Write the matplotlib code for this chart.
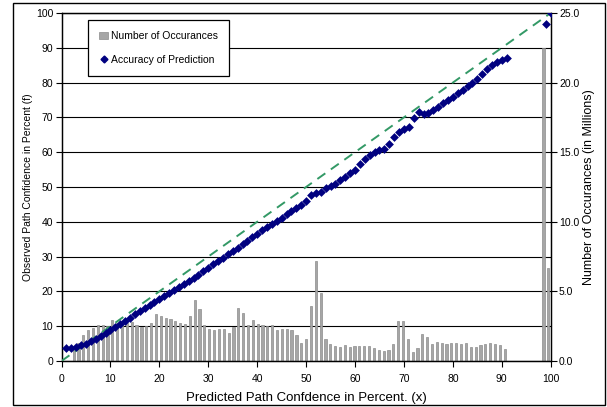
import matplotlib
matplotlib.use("Agg")
import matplotlib.pyplot as plt
from matplotlib.patches import Rectangle
from matplotlib.lines import Line2D
from matplotlib.patches import Patch
import numpy as np

plt.rcParams['font.family'] = ['Liberation Sans', 'DejaVu Sans']

# ---- data ----
# Accuracy of prediction: predicted confidence (x) vs observed confidence (f)
pred_x = list(range(1, 92)) + [99, 100]
observed_f = [3.6, 3.7, 4.0, 4.5, 5.0, 5.7, 6.4, 7.2, 8.0, 8.9,
              9.8, 10.7, 11.6, 12.5, 13.4, 14.3, 15.2, 16.1, 17.0, 17.9,
              18.7, 19.5, 20.3, 21.2, 22.1, 23.0, 23.9, 24.8, 25.8, 26.8,
              27.8, 28.7, 29.7, 30.7, 31.6, 32.5, 33.5, 34.6, 35.6, 36.6,
              37.6, 38.5, 39.4, 40.3, 41.2, 42.1, 43.0, 43.9, 44.9, 45.9,
              47.6, 48.2, 48.7, 49.6, 50.3, 51.0, 51.9, 52.9, 54.0, 55.0,
              56.6, 58.0, 59.2, 60.0, 60.6, 61.0, 62.3, 64.4, 65.8, 66.6,
              67.2, 69.8, 71.5, 71.0, 71.2, 72.0, 73.0, 74.0, 75.0, 76.0,
              77.0, 78.0, 79.0, 80.0, 81.0, 82.5, 84.0, 85.0, 86.0, 86.5,
              87.0, 96.8, 100.0]

# Number of occurrences (millions) per confidence category 0..100
bin_category = list(range(0, 101))
occurrences_m = ([0.0, 0.0,
                  0.79, 1.31, 1.86, 2.21, 2.38, 2.62, 2.57, 2.50, 2.93, 2.76,
                  2.80, 2.74, 2.80, 2.57, 2.45, 2.50, 2.74, 3.40, 3.20, 3.10,
                  3.00, 2.88, 2.72, 2.69, 3.20, 4.36, 3.76, 2.57, 2.33, 2.26,
                  2.33, 2.33, 1.98, 2.45, 3.83, 3.45, 2.57, 2.98, 2.64, 2.62,
                  2.50, 2.57, 2.21, 2.29, 2.33, 2.26, 1.86, 1.28, 1.55, 3.98,
                  7.19, 4.90, 1.60, 1.19, 1.05, 1.02, 1.12, 0.98, 1.10, 1.10,
                  1.07, 1.05, 0.90, 0.79, 0.74, 0.79, 1.19, 2.86, 2.90, 1.57,
                  0.64, 0.95, 1.95, 1.69, 1.21, 1.38, 1.31, 1.21, 1.29, 1.29,
                  1.21, 1.31, 1.02, 1.02, 1.12, 1.24, 1.29, 1.24, 1.17, 0.83]
                 + [0.0] * 7 + [22.5, 6.7])

diag_x = [0, 100]
diag_y = [0, 100]

left_ticks = list(range(0, 101, 10))
right_ticks = [0, 5, 10, 15, 20, 25]
x_ticks = list(range(0, 101, 10))

# ---- figure ----
fig = plt.figure(figsize=(6.07, 4.07), dpi=100)
pos = [61.5 / 607, 1 - 361 / 407, (550.7 - 61.5) / 607, (361 - 13) / 407]

# bar axes (bottom layer, right scale, category x scale)
axb = fig.add_axes(pos, zorder=0)
axb.bar(bin_category, occurrences_m, width=0.45, color='#a6a6a6',
        edgecolor='#8c8c8c', linewidth=0.5, zorder=2)
axb.set_xlim(-0.5, 100.5)
axb.set_ylim(0, 25)
axb.xaxis.set_visible(False)
axb.yaxis.tick_right()
axb.yaxis.set_label_position('right')
axb.set_yticks(right_ticks)
axb.set_yticklabels([f"{v:.1f}" for v in right_ticks], fontsize=7.5)
axb.set_yticks(np.arange(2.5, 25, 5), minor=True)
axb.tick_params(axis='y', which='minor', length=0)
axb.tick_params(axis='y', which='major', direction='out', length=4, width=0.8, pad=2)
axb.grid(True, axis='y', which='both', color='black', linewidth=0.8, zorder=0)
axb.set_axisbelow(True)
axb.set_ylabel('Number of Occurances (in Millions)', fontsize=9, labelpad=3)
for s in axb.spines.values():
    s.set_color('black')
    s.set_linewidth(0.9)

# main axes (top layer)
ax = fig.add_axes(pos, zorder=1)
ax.patch.set_visible(False)
ax.plot(diag_x, diag_y, linestyle=(0, (5, 3.5)), color='#339966', linewidth=1.4, zorder=3)
ax.scatter(pred_x, observed_f, marker='D', s=20, color='#000080', zorder=4,
           linewidths=0)
ax.set_xlim(0, 100)
ax.set_ylim(0, 100)
ax.set_xticks(x_ticks)
ax.set_yticks(left_ticks)
ax.tick_params(axis='both', direction='out', length=4, width=0.8, labelsize=7.5, pad=2)
ax.tick_params(axis='x', pad=5)
ax.set_xlabel('Predicted Path Confdence in Percent. (x)', fontsize=9.5, labelpad=6)
ax.set_ylabel('Observed Path Confidence in Percent (f)', fontsize=7.5, labelpad=2)
for s in ax.spines.values():
    s.set_color('black')
    s.set_linewidth(0.9)

handles = [Patch(facecolor='#a6a6a6', edgecolor='#8c8c8c', linewidth=0.5),
           Line2D([], [], marker='D', linestyle='none', color='#000080', markersize=3.5)]
leg = ax.legend(handles, ['Number of Occurances', 'Accuracy of Prediction'],
                loc='upper left', bbox_to_anchor=((88 - 61.5) / 489.2, (361 - 20) / 348),
                fontsize=7.5, frameon=True, fancybox=False, edgecolor='black',
                borderpad=1.1, labelspacing=1.3, handlelength=0.8, handletextpad=0.3,
                borderaxespad=0)
leg.get_frame().set_linewidth(0.9)
leg.get_frame().set_facecolor('white')
leg.get_frame().set_alpha(1)

# outer chart border
fig.patches.append(Rectangle((13 / 607, 2 / 407), (605 - 13) / 607, (404 - 2) / 407,
                             transform=fig.transFigure, fill=False,
                             edgecolor='black', linewidth=1.0))

fig.savefig('out.png', dpi=100)
